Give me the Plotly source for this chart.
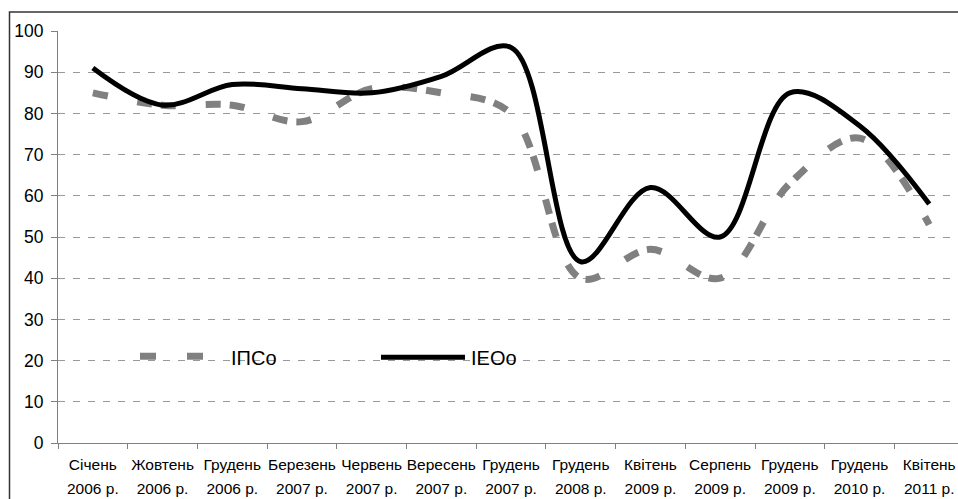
import plotly.graph_objects as go

months = ["Січень", "Жовтень", "Грудень", "Березень", "Червень", "Вересень", "Грудень",
          "Грудень", "Квітень", "Серпень", "Грудень", "Грудень", "Квітень"]
years = ["2006 р.", "2006 р.", "2006 р.", "2007 р.", "2007 р.", "2007 р.", "2007 р.",
         "2008 р.", "2009 р.", "2009 р.", "2009 р.", "2010 р.", "2011 р."]
ipso = [85, 82, 82, 78, 86, 85, 80, 40, 47, 40, 63, 74, 53]
ieoo = [91, 82, 87, 86, 85, 89, 96, 44, 62, 50, 85, 77, 58]
series_names = ["ІПСо", "ІЕОо"]
y_ticks = list(range(0, 101, 10))

W, H = 958, 499
L, T = 58, 31
B = H - 442.7
PW = W - L
PH = H - T - B

cats = [f"{m}|{y}" for m, y in zip(months, years)]
ticktext = [f"<span style='font-size:15.5px'>{m}</span><br><span style='font-size:15.5px'>{y}</span>"
            for m, y in zip(months, years)]

fig = go.Figure()
fig.add_trace(go.Scatter(x=cats, y=ipso, mode="lines", name=series_names[0],
                         line=dict(color="#808080", width=7, dash="15px,30px,15px,9px",
                                   shape="spline", smoothing=1),
                         showlegend=False, hoverinfo="skip"))
fig.add_trace(go.Scatter(x=cats, y=ieoo, mode="lines", name=series_names[1],
                         line=dict(color="#000000", width=5, shape="spline", smoothing=1),
                         showlegend=False, hoverinfo="skip"))

def px(xp):
    return (xp - L) / PW

def py(yp):
    return (H - B - yp) / PH

shapes = [
    # outer frame
    dict(type="rect", xref="paper", yref="paper", x0=px(9.5), x1=px(1000), y0=py(520), y1=py(12),
         line=dict(color="#333333", width=1.5), fillcolor="rgba(0,0,0,0)", layer="above"),
    # legend background
    dict(type="rect", xref="paper", yref="paper", x0=px(82), x1=px(567), y0=py(385), y1=py(335),
         line=dict(width=0), fillcolor="white", layer="between"),
    # legend symbols
    dict(type="line", xref="paper", yref="paper", x0=px(140), x1=px(156), y0=py(356), y1=py(356),
         line=dict(color="#808080", width=7)),
    dict(type="line", xref="paper", yref="paper", x0=px(187), x1=px(203), y0=py(356), y1=py(356),
         line=dict(color="#808080", width=7)),
    dict(type="line", xref="paper", yref="paper", x0=px(381), x1=px(465), y0=py(357), y1=py(357),
         line=dict(color="#000000", width=5)),
]
annotations = [
    dict(text=series_names[0], xref="paper", yref="paper", x=px(229), y=py(358), xanchor="left",
         yanchor="middle", showarrow=False, font=dict(size=20, color="#000")),
    dict(text=series_names[1], xref="paper", yref="paper", x=px(469), y=py(358), xanchor="left",
         yanchor="middle", showarrow=False, font=dict(size=20, color="#000")),
]

fig.update_layout(
    template="none",
    width=W, height=H,
    margin=dict(l=L, r=0, t=T, b=B, pad=0, autoexpand=False),
    paper_bgcolor="white", plot_bgcolor="white",
    font=dict(family="Liberation Sans, Arial, sans-serif", color="#000"),
    shapes=shapes, annotations=annotations,
    showlegend=False, hovermode=False,
)
fig.update_xaxes(
    type="category", categoryorder="array", categoryarray=cats,
    tickvals=cats, ticktext=ticktext, automargin=False,
    range=[-0.5, -0.5 + PW / 69.7],
    showgrid=False, zeroline=False,
    showline=True, linecolor="#808080", linewidth=1,
    ticks="outside", tickson="boundaries", ticklen=5, tickcolor="#808080", tickwidth=1,
    tickfont=dict(size=18.5, color="#000"), tickangle=0, ticklabelstandoff=4,
)
fig.update_yaxes(
    range=[0, 100], tickvals=y_ticks, automargin=False,
    showgrid=True, gridcolor="#9a9a9a", gridwidth=1, griddash="7px,8px",
    zeroline=False, showline=True, linecolor="#808080", linewidth=1,
    ticks="outside", ticklen=6, tickcolor="#808080", tickwidth=1,
    tickfont=dict(size=17.5, color="#000"), ticklabelstandoff=4,
)

fig.write_html(
    "out.html",
    config={"displayModeBar": False, "staticPlot": True},
    post_script="document.body.style.margin='0';document.body.style.overflow='hidden';",
)
